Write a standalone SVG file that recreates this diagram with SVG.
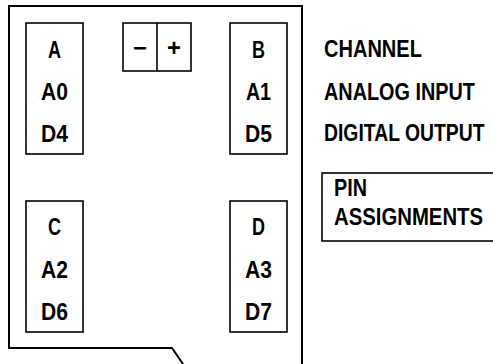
<svg xmlns="http://www.w3.org/2000/svg" width="493" height="364" viewBox="0 0 493 364">
  <style>
    .bg { fill: #ffffff; }
    .board { fill: none; stroke: #000; stroke-width: 2; stroke-linejoin: miter; }
    .box { fill: #fff; stroke: #000; stroke-width: 1.6; }
    .t { font-family: "Liberation Sans", Arial, sans-serif; font-weight: bold; font-size: 23.5px; fill: #000; }
    .c { text-anchor: middle; }
  </style>
  <rect class="bg" x="0" y="0" width="493" height="364"/>

  <g id="board">
    <path class="board" d="M183,364 L172,348 L9,348 L9,6 L302,6 L302,364"/>
  </g>

  <g id="channel-a">
    <rect class="box" x="26" y="23" width="57" height="131"/>
    <text class="t c" x="54.5" y="58" textLength="13" lengthAdjust="spacingAndGlyphs">A</text>
    <text class="t c" x="54.5" y="100" textLength="27" lengthAdjust="spacingAndGlyphs">A0</text>
    <text class="t c" x="54.5" y="142" textLength="27" lengthAdjust="spacingAndGlyphs">D4</text>
  </g>

  <g id="power">
    <rect class="box" x="123" y="23" width="68" height="48"/>
    <line x1="157" y1="23" x2="157" y2="71" stroke="#000" stroke-width="1.6"/>
    <text class="t c" x="140" y="56" textLength="14" lengthAdjust="spacingAndGlyphs">−</text>
    <text class="t c" x="174" y="56" textLength="14" lengthAdjust="spacingAndGlyphs">+</text>
  </g>

  <g id="channel-b">
    <rect class="box" x="230" y="23" width="57" height="131"/>
    <text class="t c" x="258.5" y="58" textLength="13" lengthAdjust="spacingAndGlyphs">B</text>
    <text class="t c" x="258.5" y="100" textLength="25" lengthAdjust="spacingAndGlyphs">A1</text>
    <text class="t c" x="258.5" y="142" textLength="27" lengthAdjust="spacingAndGlyphs">D5</text>
  </g>

  <g id="channel-c">
    <rect class="box" x="26" y="201" width="57" height="131"/>
    <text class="t c" x="54.5" y="235" textLength="13" lengthAdjust="spacingAndGlyphs">C</text>
    <text class="t c" x="54.5" y="278" textLength="27" lengthAdjust="spacingAndGlyphs">A2</text>
    <text class="t c" x="54.5" y="320" textLength="27" lengthAdjust="spacingAndGlyphs">D6</text>
  </g>

  <g id="channel-d">
    <rect class="box" x="230" y="201" width="57" height="131"/>
    <text class="t c" x="258.5" y="235" textLength="13" lengthAdjust="spacingAndGlyphs">D</text>
    <text class="t c" x="258.5" y="278" textLength="27" lengthAdjust="spacingAndGlyphs">A3</text>
    <text class="t c" x="258.5" y="320" textLength="27" lengthAdjust="spacingAndGlyphs">D7</text>
  </g>

  <g id="legend">
    <text class="t" transform="translate(324,57) scale(0.853,1)">CHANNEL</text>
    <text class="t" transform="translate(324,100) scale(0.844,1)">ANALOG INPUT</text>
    <text class="t" transform="translate(324,141) scale(0.824,1)">DIGITAL OUTPUT</text>
  </g>

  <g id="pin-assignments">
    <rect class="box" x="322" y="173" width="180" height="68"/>
    <text class="t" transform="translate(334,196) scale(0.842,1)">PIN</text>
    <text class="t" transform="translate(334,225) scale(0.865,1)">ASSIGNMENTS</text>
  </g>
</svg>
